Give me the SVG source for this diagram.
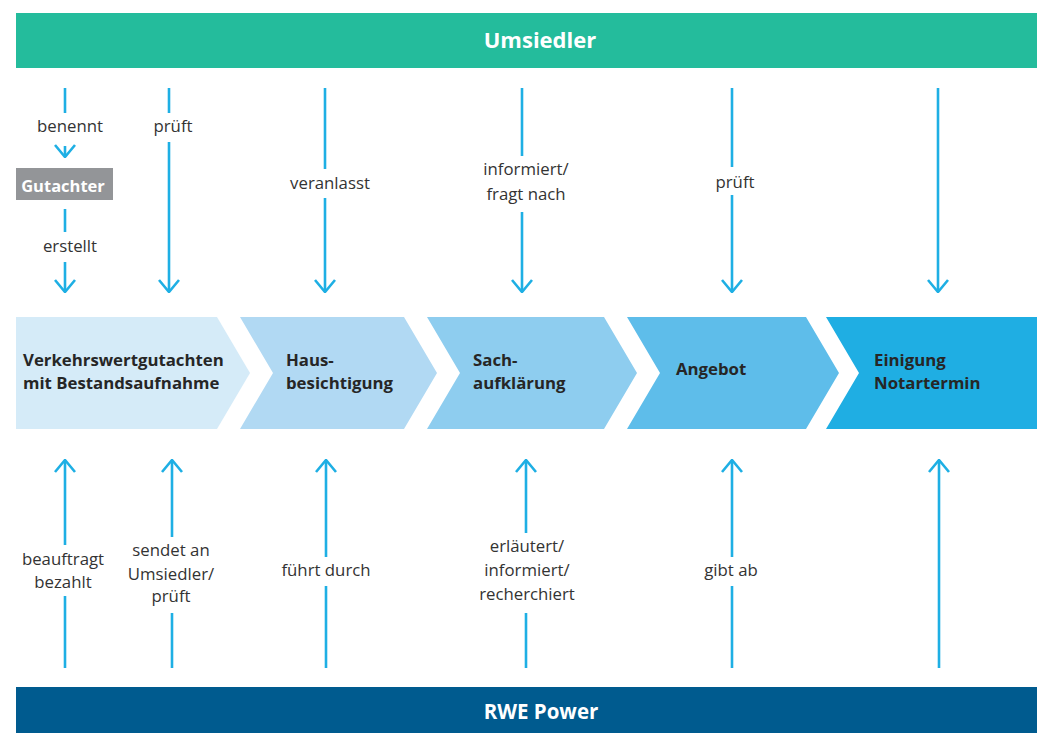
<svg xmlns="http://www.w3.org/2000/svg" width="1037" height="733" viewBox="0 0 1037 733">
<defs>
<style>
.bar{font-family:"Open Sans","Noto Sans",sans-serif;font-weight:bold;fill:#fff;text-anchor:middle}
.step{font-family:"Open Sans","Noto Sans",sans-serif;font-weight:bold;font-size:16.8px;fill:#262626}
.lbl{font-family:"Open Sans","Noto Sans",sans-serif;font-size:16.8px;fill:#333;text-anchor:middle}
.ln{stroke:#1EAFE4;stroke-width:2.6;fill:none}
</style>
<marker id="head" viewBox="-14 -11 15 22" refX="0" refY="0" markerWidth="15" markerHeight="22" markerUnits="userSpaceOnUse" orient="auto">
<path d="M-12,-10 L0,0 L-12,10" fill="none" stroke="#1EAFE4" stroke-width="2.6"/>
</marker>
</defs>
<rect width="1037" height="733" fill="#fff"/>
<g id="umsiedler">
<rect x="16" y="13" width="1021" height="55" fill="#24BC9C"/>
<text class="bar" x="540" y="48" font-size="22">Umsiedler</text>
</g>
<g id="rwe">
<rect x="16" y="687" width="1021" height="46" fill="#005B8F"/>
<text class="bar" x="541" y="719" font-size="20.5">RWE Power</text>
</g>
<g id="gutachter">
<rect x="16" y="168" width="97" height="32" fill="#939598"/>
<text class="bar" x="63" y="192" font-size="16.5">Gutachter</text>
</g>
<g id="step1">
<polygon points="16,317 217,317 250,373 217,429 16,429" fill="#D5EBF8"/>
<text class="step" x="23" y="366">Verkehrswertgutachten</text>
<text class="step" x="23" y="389">mit Bestandsaufnahme</text>
</g>
<g id="step2">
<polygon points="240,317 404,317 437,373 404,429 240,429 273,373" fill="#B1D9F3"/>
<text class="step" x="286" y="366">Haus-</text>
<text class="step" x="286" y="389">besichtigung</text>
</g>
<g id="step3">
<polygon points="427,317 604,317 637,373 604,429 427,429 460,373" fill="#8ECDEF"/>
<text class="step" x="473" y="366">Sach-</text>
<text class="step" x="473" y="389">aufklärung</text>
</g>
<g id="step4">
<polygon points="627,317 806,317 839,373 806,429 627,429 660,373" fill="#5EBDEA"/>
<text class="step" x="676" y="375">Angebot</text>
</g>
<g id="step5">
<polygon points="826,317 1037,317 1037,429 826,429 859,373" fill="#1FAEE3"/>
<text class="step" x="874" y="366">Einigung</text>
<text class="step" x="874" y="389">Notartermin</text>
</g>
<g id="connectors">
<line class="ln" x1="65" y1="88" x2="65" y2="113"/>
<line class="ln" x1="65" y1="146" x2="65" y2="157" marker-end="url(#head)"/>
<line class="ln" x1="65" y1="209" x2="65" y2="232"/>
<line class="ln" x1="65" y1="262" x2="65" y2="292" marker-end="url(#head)"/>
<line class="ln" x1="169" y1="88" x2="169" y2="113"/>
<line class="ln" x1="169" y1="142" x2="169" y2="292" marker-end="url(#head)"/>
<line class="ln" x1="325" y1="88" x2="325" y2="169"/>
<line class="ln" x1="325" y1="198" x2="325" y2="292" marker-end="url(#head)"/>
<line class="ln" x1="522" y1="88" x2="522" y2="156"/>
<line class="ln" x1="522" y1="212" x2="522" y2="292" marker-end="url(#head)"/>
<line class="ln" x1="732" y1="88" x2="732" y2="167"/>
<line class="ln" x1="732" y1="195" x2="732" y2="292" marker-end="url(#head)"/>
<line class="ln" x1="938" y1="88" x2="938" y2="292" marker-end="url(#head)"/>
<line class="ln" x1="65" y1="545" x2="65" y2="460" marker-end="url(#head)"/>
<line class="ln" x1="65" y1="596" x2="65" y2="668"/>
<line class="ln" x1="172" y1="537" x2="172" y2="460" marker-end="url(#head)"/>
<line class="ln" x1="172" y1="613" x2="172" y2="668"/>
<line class="ln" x1="326" y1="557" x2="326" y2="460" marker-end="url(#head)"/>
<line class="ln" x1="326" y1="586" x2="326" y2="668"/>
<line class="ln" x1="526" y1="533" x2="526" y2="460" marker-end="url(#head)"/>
<line class="ln" x1="526" y1="613" x2="526" y2="668"/>
<line class="ln" x1="732" y1="557" x2="732" y2="460" marker-end="url(#head)"/>
<line class="ln" x1="732" y1="586" x2="732" y2="668"/>
<line class="ln" x1="939" y1="668" x2="939" y2="460" marker-end="url(#head)"/>
<text class="lbl" x="70" y="132">benennt</text>
<text class="lbl" x="70" y="252">erstellt</text>
<text class="lbl" x="173" y="132">prüft</text>
<text class="lbl" x="330" y="189">veranlasst</text>
<text class="lbl" x="526" y="175">informiert/</text>
<text class="lbl" x="526" y="200">fragt nach</text>
<text class="lbl" x="735" y="188">prüft</text>
<text class="lbl" x="63" y="565">beauftragt</text>
<text class="lbl" x="63" y="588">bezahlt</text>
<text class="lbl" x="171" y="556">sendet an</text>
<text class="lbl" x="171" y="580">Umsiedler/</text>
<text class="lbl" x="171" y="602">prüft</text>
<text class="lbl" x="326" y="576">führt durch</text>
<text class="lbl" x="527" y="552">erläutert/</text>
<text class="lbl" x="527" y="576">informiert/</text>
<text class="lbl" x="527" y="600">recherchiert</text>
<text class="lbl" x="731" y="576">gibt ab</text>
</g>
</svg>
